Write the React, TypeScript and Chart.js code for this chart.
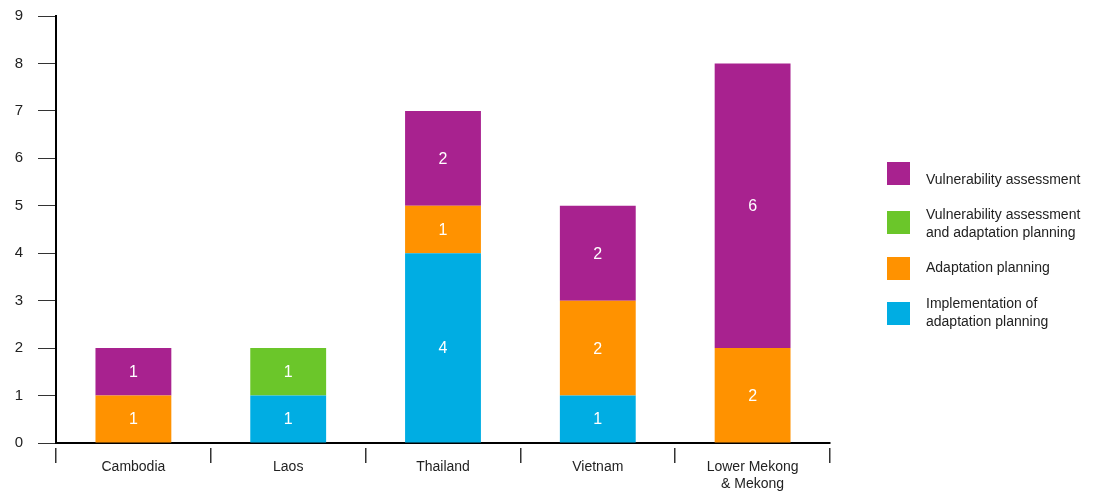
import React, { useEffect, useRef } from "react";
import { Chart, registerables } from "chart.js";

Chart.register(...registerables);

const categories: (string | string[])[] = ["Cambodia", "Laos", "Thailand", "Vietnam", ["Lower Mekong", "& Mekong"]];
const implementation = [0, 1, 4, 1, 0];
const adaptation = [1, 0, 1, 2, 2];
const vulnAndAdapt = [0, 1, 0, 0, 0];
const vulnerability = [1, 0, 2, 2, 6];
const yTicks = [0, 1, 2, 3, 4, 5, 6, 7, 8, 9];

const COLORS = {
  vuln: "#A8228F",
  vulnAdapt: "#6BC62A",
  adapt: "#FF9200",
  impl: "#00ADE3",
};

const FONT = "'Liberation Sans', Arial, sans-serif";

// positions in page coordinates (container sits at the 8px body margin)
const legendItems = [
  { color: COLORS.vuln, lines: ["Vulnerability assessment"], box: 162, text: 170 },
  { color: COLORS.vulnAdapt, lines: ["Vulnerability assessment", "and adaptation planning"], box: 211, text: 205 },
  { color: COLORS.adapt, lines: ["Adaptation planning"], box: 257, text: 258 },
  { color: COLORS.impl, lines: ["Implementation of", "adaptation planning"], box: 302, text: 294 },
];

const valueLabels = {
  id: "valueLabels",
  afterDatasetsDraw(chart: any) {
    const ctx = chart.ctx;
    ctx.save();
    ctx.fillStyle = "#ffffff";
    ctx.font = `16px ${FONT}`;
    ctx.textAlign = "center";
    ctx.textBaseline = "middle";
    chart.data.datasets.forEach((ds: any, i: number) => {
      const meta = chart.getDatasetMeta(i);
      meta.data.forEach((el: any, j: number) => {
        const v = ds.data[j];
        if (!v) return;
        ctx.fillText(String(v), el.x, (el.y + el.base) / 2 + 1);
      });
    });
    ctx.restore();
  },
};

export default function App() {
  const ref = useRef<HTMLCanvasElement | null>(null);
  useEffect(() => {
    if (!ref.current) return;
    const chart = new Chart(ref.current, {
      type: "bar",
      data: {
        labels: categories,
        datasets: [
          { label: "Implementation of adaptation planning", data: implementation, backgroundColor: COLORS.impl },
          { label: "Adaptation planning", data: adaptation, backgroundColor: COLORS.adapt },
          { label: "Vulnerability assessment and adaptation planning", data: vulnAndAdapt, backgroundColor: COLORS.vulnAdapt },
          { label: "Vulnerability assessment", data: vulnerability, backgroundColor: COLORS.vuln },
        ],
      },
      options: {
        animation: false,
        responsive: true,
        maintainAspectRatio: false,
        datasets: { bar: { categoryPercentage: 1, barPercentage: 0.49 } },
        layout: { padding: { left: 0, top: 8, right: 256, bottom: 0 } },
        plugins: { legend: { display: false }, tooltip: { enabled: false } },
        scales: {
          x: {
            stacked: true,
            afterFit: (s: any) => {
              s.height = 51;
              s.paddingLeft = 0;
              s.paddingRight = 0;
            },
            border: { color: "#000", width: 2 },
            grid: {
              offset: true,
              drawOnChartArea: false,
              drawTicks: true,
              tickLength: 20,
              color: "#333",
              lineWidth: 1.5,
              tickBorderDash: [0, 4, 16, 100],
            },
            ticks: {
              color: "#222",
              font: { family: FONT, size: 14, lineHeight: 1.2 },
              padding: -4,
              maxRotation: 0,
              autoSkip: false,
            },
          },
          y: {
            stacked: true,
            min: 0,
            max: 9,
            afterFit: (s: any) => {
              s.width = 48;
              s.paddingTop = 0;
              s.paddingBottom = 0;
            },
            afterBuildTicks: (s: any) => {
              s.ticks = yTicks.map((v) => ({ value: v }));
            },
            border: { color: "#000", width: 2 },
            grid: { drawOnChartArea: false, drawTicks: true, tickLength: 18, color: "#333", lineWidth: 1 },
            ticks: { color: "#222", font: { family: FONT, size: 15 }, padding: 15, stepSize: 1 },
          },
        },
      },
      plugins: [valueLabels],
    });
    return () => chart.destroy();
  }, []);

  return (
    <div style={{ position: "relative", width: 1078, height: 486, fontFamily: FONT }}>
      <div style={{ position: "absolute", left: 0, top: 0, width: 1078, height: 486 }}>
        <canvas ref={ref} />
      </div>
      {legendItems.map((it, i) => (
        <React.Fragment key={i}>
          <div
            style={{ position: "absolute", left: 879, top: it.box - 8, width: 23, height: 23, background: it.color }}
          />
          <div
            style={{
              position: "absolute",
              left: 918,
              top: it.text - 8,
              fontSize: 14,
              lineHeight: "18px",
              color: "#222",
              whiteSpace: "nowrap",
            }}
          >
            {it.lines.map((l, k) => (
              <div key={k}>{l}</div>
            ))}
          </div>
        </React.Fragment>
      ))}
    </div>
  );
}
